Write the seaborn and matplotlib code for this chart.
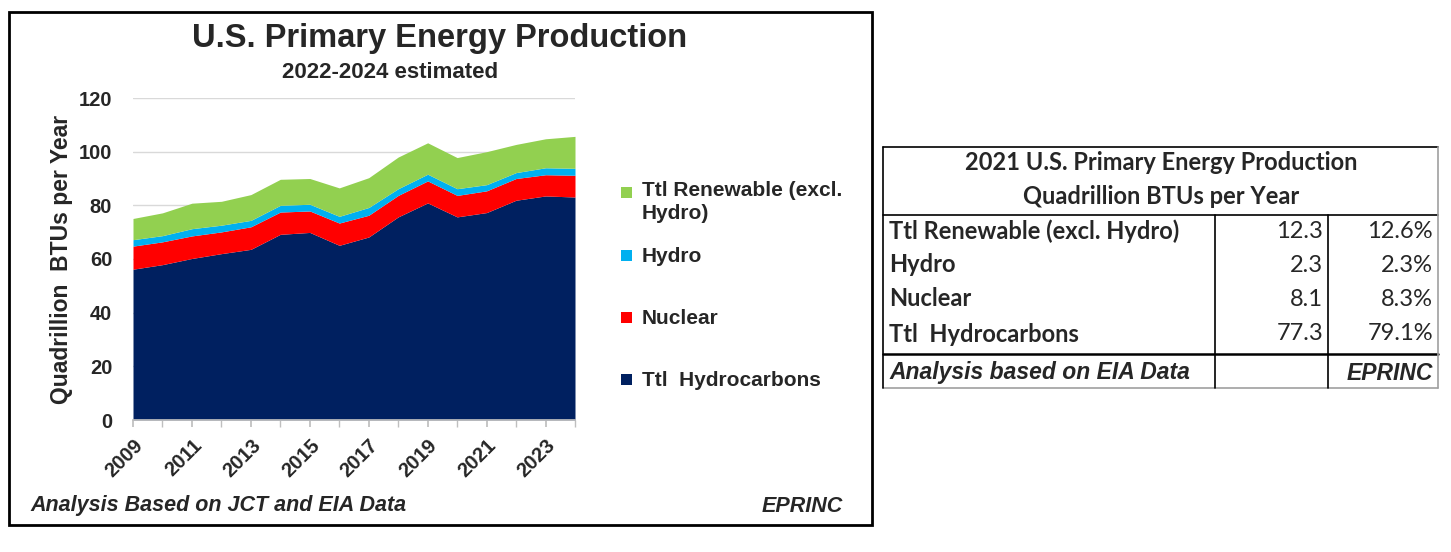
import numpy as np
import pandas as pd
import seaborn as sns
import matplotlib.pyplot as plt
from matplotlib.patches import Rectangle
from matplotlib.lines import Line2D

years = list(range(2009, 2025))
hydrocarbons = [56.2, 57.9, 60.2, 62.0, 63.6, 69.2, 69.9, 65.1, 68.2, 75.7, 80.9, 75.7, 77.3, 81.9, 83.5, 83.1]
nuclear = [8.6, 8.5, 8.4, 8.1, 8.4, 8.3, 8.0, 8.3, 8.1, 8.0, 8.2, 8.0, 8.1, 8.1, 7.9, 8.1]
hydro = [2.4, 2.3, 2.7, 2.5, 2.4, 2.5, 2.5, 2.5, 2.9, 2.5, 2.5, 2.5, 2.3, 2.2, 2.6, 2.6]
renewable = [7.9, 8.5, 9.5, 8.9, 9.6, 9.7, 9.6, 10.6, 11.1, 11.8, 11.7, 11.6, 12.3, 10.5, 10.8, 11.9]

series_names = ['Ttl  Hydrocarbons', 'Nuclear', 'Hydro', 'Ttl Renewable (excl.\nHydro)']
series_colors = ['#002060', '#FF0000', '#00B0F0', '#92D050']

tbl_labels = ['Ttl Renewable (excl. Hydro)', 'Hydro', 'Nuclear', 'Ttl  Hydrocarbons']
tbl_values = ['12.3', '2.3', '8.1', '77.3']
tbl_pct = ['12.6%', '2.3%', '8.3%', '79.1%']

df = pd.DataFrame({'year': years, series_names[0]: hydrocarbons, series_names[1]: nuclear,
                   series_names[2]: hydro, series_names[3]: renewable})

sns.set_theme(style='white')
plt.rcParams['font.family'] = ['Liberation Sans', 'DejaVu Sans']

W, H = 1451, 552
fig = plt.figure(figsize=(W / 100, H / 100), dpi=100)


def fx(x):
    return x / W


def fy(y):
    return 1 - y / H


ax = fig.add_axes([fx(133), fy(420), fx(575) - fx(133), fy(98) - fy(420)])
ax.stackplot(df['year'], [df[n] for n in series_names], colors=series_colors, linewidth=0)
ax.set_xlim(2009, 2024)
ax.set_ylim(0, 120)
ax.set_yticks(range(0, 121, 20))
ax.yaxis.grid(True, color='#d9d9d9', linewidth=1)
ax.set_axisbelow(True)
sns.despine(ax=ax, left=True, top=True, right=True)
ax.spines['bottom'].set_color('#bfbfbf')
ax.set_xticks(years, minor=True)
ax.set_xticks(years[::2])
ax.set_xticklabels([str(y) for y in years[::2]], rotation=45, ha='right', rotation_mode='anchor',
                   fontsize=14.5, fontweight='bold')
ax.tick_params(axis='x', which='both', bottom=True, length=5, color='#bfbfbf', pad=6)
ax.tick_params(axis='y', length=0, pad=15, labelsize=14.5)
for t in ax.get_yticklabels():
    t.set_fontweight('bold')
ax.set_ylabel('Quadrillion  BTUs per Year', fontsize=16.5, fontweight='bold', labelpad=4)

# title block
fig.text(fx(440), fy(38), 'U.S. Primary Energy Production', ha='center', va='center',
         fontsize=23.5, fontweight='bold')
fig.text(fx(390), fy(73), '2022-2024 estimated', ha='center', va='center',
         fontsize=16, fontweight='bold')

# legend, top entry first
leg_y = [193, 256, 318, 380]
for name, col, yy in zip(series_names[::-1], series_colors[::-1], leg_y):
    fig.patches.append(Rectangle((fx(621), fy(yy + 5)), fx(11), fy(0) - fy(11),
                                 transform=fig.transFigure, facecolor=col, edgecolor='none'))
    if '\n' in name:
        fig.text(fx(642), fy(yy - 12), name, ha='left', va='top', fontsize=15,
                 fontweight='bold', linespacing=1.25)
    else:
        fig.text(fx(642), fy(yy), name, ha='left', va='center', fontsize=15, fontweight='bold')

fig.text(fx(30), fy(506), 'Analysis Based on JCT and EIA Data', ha='left', va='center',
         fontsize=15.5, fontweight='bold', style='italic')
fig.text(fx(843), fy(506), 'EPRINC', ha='right', va='center',
         fontsize=15.5, fontweight='bold', style='italic')

fig.patches.append(Rectangle((fx(9), fy(525)), fx(872) - fx(9), fy(12) - fy(525),
                             transform=fig.transFigure, facecolor='none',
                             edgecolor='black', linewidth=2))


# table on the right
def hline(y, x0=883, x1=1438, lw=1.2, c='black'):
    fig.add_artist(Line2D([fx(x0), fx(x1)], [fy(y), fy(y)], color=c, linewidth=lw))


def vline(x, y0, y1, lw=1.2, c='black'):
    fig.add_artist(Line2D([fx(x), fx(x)], [fy(y0), fy(y1)], color=c, linewidth=lw))


hline(147)
hline(215)
hline(354, lw=1.8)
hline(388, c='#a0a0a0')
vline(883, 147, 388)
vline(1438, 147, 388, c='#a0a0a0')
vline(1215, 215, 388)
vline(1328, 215, 388)

tfont = ['Lato', 'DejaVu Sans']
fig.text(fx(1161), fy(162), '2021 U.S. Primary Energy Production', ha='center', va='center',
         fontsize=17, fontweight='bold', family=tfont)
fig.text(fx(1161), fy(197), 'Quadrillion BTUs per Year', ha='center', va='center',
         fontsize=17, fontweight='bold', family=tfont)
row_y = [231, 265, 299, 334]
for lab, val, pct, yy in zip(tbl_labels, tbl_values, tbl_pct, row_y):
    fig.text(fx(889), fy(yy), lab, ha='left', va='center', fontsize=17,
             fontweight='bold', family=tfont)
    fig.text(fx(1323), fy(yy), val, ha='right', va='center', fontsize=17, family=tfont)
    fig.text(fx(1433), fy(yy), pct, ha='right', va='center', fontsize=17, family=tfont)
fig.text(fx(889), fy(373), 'Analysis based on EIA Data', ha='left', va='center',
         fontsize=16.5, fontweight='bold', style='italic')
fig.text(fx(1433), fy(373), 'EPRINC', ha='right', va='center',
         fontsize=16.5, fontweight='bold', style='italic')

fig.savefig('out.png', dpi=100, facecolor='white')
